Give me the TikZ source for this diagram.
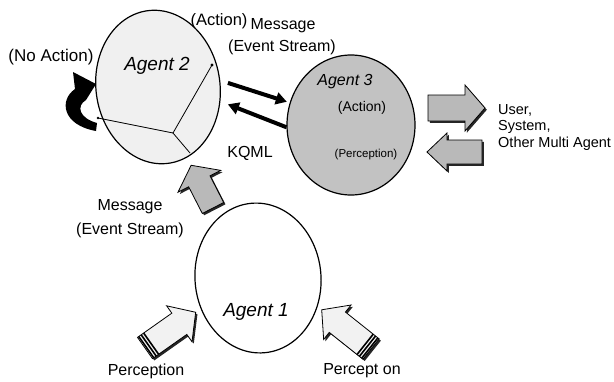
\documentclass[tikz,border=0pt]{standalone}
\usepackage{fontspec}
\setmainfont{Liberation Sans}
\usetikzlibrary{shapes.geometric,arrows.meta}
\newcommand\blockarrow[8]{%
  \begin{scope}[shift={(#1+1.8,#2+1.8)},rotate=#3]
    \fill[black!85] (0,-#5) -- (#4-#7,-#5) -- (#4-#7,-#6) -- (#4,0) -- (#4-#7,#6) -- (#4-#7,#5) -- (0,#5) -- cycle;
  \end{scope}
  \begin{scope}[shift={(#1,#2)},rotate=#3]
    \draw[fill=#8,line width=0.8pt] (0,-#5) -- (#4-#7,-#5) -- (#4-#7,-#6) -- (#4,0) -- (#4-#7,#6) -- (#4-#7,#5) -- (0,#5) -- cycle;
  \end{scope}}
\newcommand\tailstripes[4]{%
  \begin{scope}[shift={(#1,#2)},rotate=#3]
    \foreach \k in {1.5,4.5,7.5} \draw[line width=1.6pt] (\k,-#4) -- (\k,#4);
  \end{scope}}
\begin{document}
\begin{tikzpicture}[x=1pt,y=-1pt,
  lbl/.style={inner sep=0pt,font=\fontsize{16}{18}\selectfont},
  small/.style={inner sep=0pt,font=\fontsize{14.5}{16}\selectfont},
  agentlbl/.style={inner sep=0pt,font=\fontsize{19}{21}\selectfont\itshape},
  inlbl/.style={inner sep=0pt,font=\fontsize{13}{15}\selectfont},
  agent/.style={ellipse,draw,line width=1.2pt,inner sep=0pt},
  msgarrow/.style={line width=4pt,-{Triangle[length=11pt,width=12pt]}},
  thin/.style={line width=0.8pt}]
\useasboundingbox (0,0) rectangle (614,381);
% agents
\node[agent,fill=gray!12,minimum width=124pt,minimum height=154pt,rotate=8] (a2) at (158,87) {};
\node[agent,fill=gray!48,minimum width=128pt,minimum height=140pt] (a3) at (351,125) {};
\node[agent,fill=white,minimum width=126pt,minimum height=150pt,rotate=5] (a1) at (258,278) {};
% inner lines of agent 2
\coordinate (d1) at (212,65);
\coordinate (jn) at (173,133);
\coordinate (lf) at (98,118);
\coordinate (bt) at (190,153);
\draw[thin] (d1) -- (jn) -- (lf);
\draw[thin] (jn) -- (bt);
\fill (d1) circle (1.6);
\fill (lf) circle (1.4);
% no action arrow
\fill (96,84) -- (73,72) -- (75,89) .. controls (59,100) and (62,125) .. (96,131) -- (97,123) .. controls (79,118) and (76,106) .. (86,100) -- cycle;
% message arrows
\draw[msgarrow,shorten <=8pt,shorten >=3pt] (a2.-2) -- (a3.160);
\draw[msgarrow,shorten <=0pt,shorten >=8pt] (a3.182) -- (a2.-21);
% block arrows
\blockarrow{213}{208}{117.1}{48}{12}{24}{18}{gray!55}
\blockarrow{428}{108}{0}{57}{13}{23}{20}{gray!55}
\blockarrow{482}{152}{180}{55}{12}{19}{20}{gray!55}
\blockarrow{145}{348}{35.2}{62}{13}{22}{20}{gray!10}
\blockarrow{371}{349}{141.5}{63}{13}{22}{20}{gray!10}
\tailstripes{145}{348}{35.2}{13}
\tailstripes{371}{349}{141.5}{13}
% labels
\node[agentlbl] (t2) at (157,66) {Agent 2};
\node[agentlbl,font=\fontsize{16}{18}\selectfont\itshape] (t3) at (345,82) {Agent 3};
\node[agentlbl] (t1) at (256,312) {Agent 1};
\node[inlbl,font=\fontsize{14}{16}\selectfont] (t3a) at (362,108) {(Action)};
\node[inlbl,font=\fontsize{11.5}{13}\selectfont] (t3p) at (366,155) {(Perception)};
\node[lbl,font=\fontsize{17}{19}\selectfont] (noact) at (51,57) {(No Action)};
\node[lbl,font=\fontsize{16.5}{18}\selectfont] (act) at (219,21) {(Action)};
\node[lbl] (msg1) at (283,26) {Message};
\node[lbl] (ev1) at (282,47) {(Event Stream)};
\node[lbl] (kqml) at (250,153) {KQML};
\node[lbl] (msg2) at (130,207) {Message};
\node[lbl] (ev2) at (130,230) {(Event Stream)};
\node[small,anchor=west] (u1) at (498,110) {User,};
\node[small,anchor=west] (u2) at (498,127) {System,};
\node[small,anchor=west] (u3) at (498,144) {Other Multi Agent};
\node[lbl] (p1) at (146,371) {Perception};
\node[lbl] (p2) at (362,371) {Percept on};
\end{tikzpicture}
\end{document}
